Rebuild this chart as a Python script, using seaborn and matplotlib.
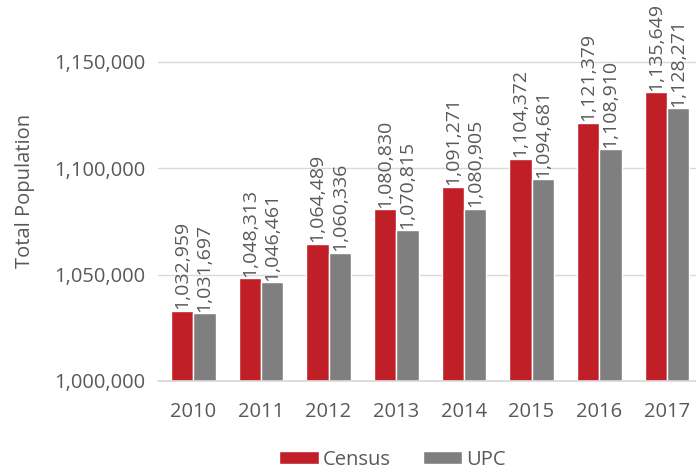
import matplotlib
matplotlib.use("Agg")
import matplotlib.pyplot as plt
import seaborn as sns
import pandas as pd
from matplotlib.ticker import FuncFormatter

years = ["2010", "2011", "2012", "2013", "2014", "2015", "2016", "2017"]
census = [1032959, 1048313, 1064489, 1080830, 1091271, 1104372, 1121379, 1135649]
upc = [1031697, 1046461, 1060336, 1070815, 1080905, 1094681, 1108910, 1128271]
series = ["Census", "UPC"]
colors = ["#C01F27", "#7F7F7F"]

df = pd.DataFrame({
    "Year": years * 2,
    "Value": census + upc,
    "Series": ["Census"] * len(years) + ["UPC"] * len(years),
})

sns.set_theme(style="white")
plt.rcParams["font.family"] = ["Open Sans", "DejaVu Sans"]
text_color = "#595959"
fs = 14.5

fig = plt.figure(figsize=(6.96, 4.72), dpi=100)
ax = fig.add_axes([0.227, 0.193, 0.773, 0.807])

sns.barplot(data=df, x="Year", y="Value", hue="Series", hue_order=series,
            palette=colors, width=0.66, ax=ax, legend=True, saturation=1)

ax.set_ylim(1000000, 1179000)
ax.set_xlim(-0.52, 7.43)
ax.set_yticks([1000000, 1050000, 1100000, 1150000])
ax.yaxis.set_major_formatter(FuncFormatter(lambda v, p: f"{int(v):,}"))
ax.grid(axis="y", color="#d9d9d9", linewidth=1)
ax.set_axisbelow(True)
for s in ["top", "right", "left"]:
    ax.spines[s].set_visible(False)
ax.spines["bottom"].set_color("#d9d9d9")
ax.tick_params(axis="y", length=0, labelsize=fs, colors=text_color, pad=9)
ax.tick_params(axis="x", length=0, labelsize=fs, colors=text_color, pad=15)
ax.set_xlabel("")
ax.set_ylabel("Total Population", fontsize=fs, color=text_color, labelpad=14)

for container in ax.containers:
    for bar in container:
        h = bar.get_height()
        ax.annotate(f"{int(round(h)):,}", (bar.get_x() + bar.get_width() / 2, h),
                    xytext=(0, 1), textcoords="offset points", rotation=90,
                    ha="center", va="bottom", fontsize=14, color=text_color)

leg = ax.legend(loc="lower center", bbox_to_anchor=(0.436, -0.255), ncol=2, frameon=False,
                fontsize=fs, handlelength=1.95, handleheight=0.6, columnspacing=1.6,
                handletextpad=0.2, borderaxespad=0)
for t in leg.get_texts():
    t.set_color(text_color)

fig.savefig("out.png", dpi=100)
